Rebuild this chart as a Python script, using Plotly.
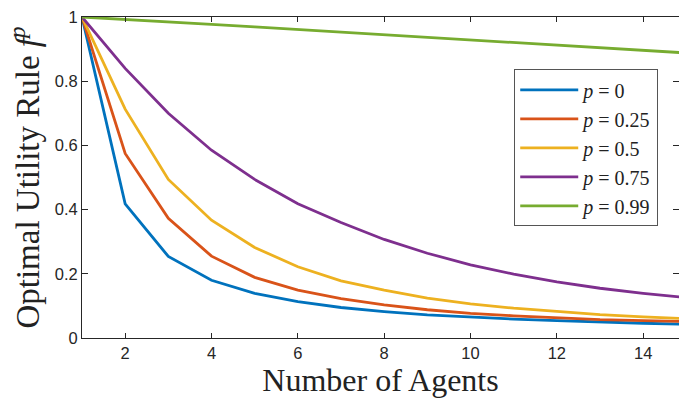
import plotly.graph_objects as go

agents = list(range(1, 16))
p_labels = ["0", "0.25", "0.5", "0.75", "0.99"]
f_p0 = [1.0, 0.418, 0.254, 0.180, 0.139, 0.113, 0.095, 0.082, 0.072, 0.065, 0.059, 0.054, 0.049, 0.046, 0.043]
f_p025 = [1.0, 0.575, 0.373, 0.255, 0.189, 0.149, 0.123, 0.103, 0.088, 0.077, 0.069, 0.062, 0.057, 0.054, 0.051]
f_p05 = [1.0, 0.713, 0.494, 0.367, 0.282, 0.222, 0.178, 0.149, 0.124, 0.106, 0.093, 0.082, 0.073, 0.066, 0.060]
f_p075 = [1.0, 0.840, 0.700, 0.585, 0.494, 0.418, 0.360, 0.307, 0.264, 0.228, 0.199, 0.175, 0.155, 0.139, 0.126]
f_p099 = [1.0, 0.993, 0.985, 0.977, 0.969, 0.961, 0.953, 0.945, 0.937, 0.929, 0.921, 0.913, 0.905, 0.897, 0.888]
series = [f_p0, f_p025, f_p05, f_p075, f_p099]
colors = ["#0072BD", "#D95319", "#EDB120", "#7E2F8E", "#77AC30"]

serif = "Liberation Serif, DejaVu Serif, serif"
fig = go.Figure()
for lab, ys, c in zip(p_labels, series, colors):
    fig.add_trace(go.Scatter(x=agents, y=ys, mode="lines",
                             name=f"<i>p</i> = {lab}",
                             line=dict(color=c, width=2.8)))

axcol = "#262626"
fig.update_layout(
    width=679, height=398,
    margin=dict(l=82, r=0, t=16.5, b=60),
    plot_bgcolor="white", paper_bgcolor="white",
    showlegend=True,
    legend=dict(x=0.724, y=0.837, xanchor="left", yanchor="top",
                bordercolor="#555", borderwidth=1, bgcolor="white",
                font=dict(family=serif, size=20, color="#222"),
                tracegroupgap=0, itemwidth=58),
    font=dict(family="Liberation Sans", size=16, color=axcol),
)
fig.update_xaxes(range=[1, 14.83], tickvals=[2, 4, 6, 8, 10, 12, 14],
                 ticks="inside", ticklen=5, tickcolor=axcol, showline=True,
                 linecolor=axcol, linewidth=1, mirror="ticks", showgrid=False,
                 zeroline=False, tickfont=dict(family="Liberation Sans", size=16.5, color=axcol),
                 title=dict(text="Number of Agents", standoff=7,
                            font=dict(family=serif, size=32, color="#222")))
fig.update_yaxes(range=[0, 1], tickvals=[0, 0.2, 0.4, 0.6, 0.8, 1],
                 ticktext=["0", "0.2", "0.4", "0.6", "0.8", "1"],
                 ticks="inside", ticklen=6, tickcolor=axcol, showline=True,
                 linecolor=axcol, linewidth=1, mirror="ticks", showgrid=False,
                 zeroline=False, tickfont=dict(family="Liberation Sans", size=16.5, color=axcol),
                 title=dict(text="Optimal Utility Rule <i>f</i><sup><i>p</i></sup>", standoff=5,
                            font=dict(family=serif, size=33, color="#222")))
fig.write_html("out.html", config={"displayModeBar": False},
               post_script="document.body.style.margin='0';document.body.style.overflow='hidden';")
